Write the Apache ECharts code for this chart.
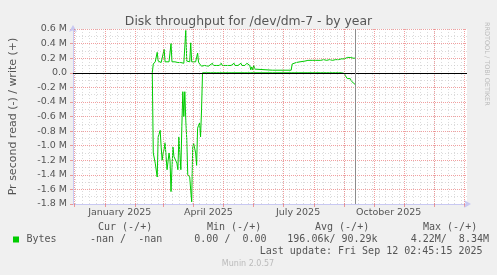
<!DOCTYPE html>
<html><head><meta charset="utf-8">
<script src="https://cdn.jsdelivr.net/npm/echarts@6/dist/echarts.min.js"></script>
<style>html,body{margin:0;padding:0;background:#F0F0F0;}#c{width:497px;height:275px;}</style>
</head><body><div id="c"></div>
<script>
// ---- data (values in M bytes per second) ----
const dates = ['2025-02-18','2025-02-19','2025-02-21','2025-02-23','2025-02-24','2025-02-26','2025-02-27','2025-02-28','2025-03-01','2025-03-02',
'2025-03-03','2025-03-04','2025-03-05','2025-03-07','2025-03-08','2025-03-09','2025-03-10','2025-03-11','2025-03-12','2025-03-13',
'2025-03-15','2025-03-16','2025-03-17','2025-03-19','2025-03-20','2025-03-21','2025-03-22','2025-03-23','2025-03-24','2025-03-25',
'2025-03-26','2025-03-28','2025-03-29','2025-03-30','2025-03-31','2025-04-01','2025-04-03','2025-04-04','2025-04-05','2025-04-06',
'2025-04-07','2025-04-08','2025-04-09','2025-04-10','2025-04-12','2025-04-14','2025-04-16','2025-04-18','2025-04-20','2025-04-21',
'2025-04-24','2025-04-27','2025-04-29','2025-04-30','2025-05-03','2025-05-05','2025-05-06','2025-05-09','2025-05-12','2025-05-13',
'2025-05-16','2025-05-19','2025-05-20','2025-05-23','2025-05-25','2025-05-26','2025-05-28','2025-05-29','2025-05-30','2025-05-31',
'2025-06-01','2025-06-02','2025-06-03','2025-06-20','2025-06-21','2025-06-22','2025-07-09','2025-07-10','2025-07-12','2025-07-14',
'2025-07-16','2025-07-18','2025-07-20','2025-07-23','2025-07-26','2025-07-28','2025-07-31','2025-08-03','2025-08-05','2025-08-08',
'2025-08-11','2025-08-14','2025-08-17','2025-08-20','2025-08-23','2025-08-26','2025-08-29','2025-08-31','2025-09-01','2025-09-02',
'2025-09-03','2025-09-04','2025-09-05','2025-09-06','2025-09-07','2025-09-08','2025-09-09','2025-09-10','2025-09-11','2025-09-12'];
const writeM = [0,0.12,0.15,0.28,0.16,0.14,0.14,0.15,0.14,0.32,
0.15,0.14,0.14,0.15,0.14,0.40,0.15,0.14,0.14,0.15,
0.14,0.14,0.13,0.14,0.13,0.14,0.13,0.15,0.58,0.16,
0.15,0.15,0.41,0.15,0.14,0.14,0.15,0.14,0.27,0.14,
0.15,0.14,0.09,0.09,0.10,0.10,0.09,0.10,0.13,0.10,
0.10,0.10,0.13,0.10,0.10,0.12,0.10,0.10,0.13,0.10,
0.10,0.13,0.10,0.10,0.13,0.11,0.10,0.04,0.08,0.04,
0.10,0.05,0.035,0.035,0.04,0.035,0.035,0.12,0.13,0.14,
0.15,0.15,0.16,0.16,0.17,0.16,0.17,0.17,0.18,0.17,
0.18,0.17,0.18,0.17,0.18,0.18,0.19,0.19,0.19,0.20,
0.20,0.21,0.20,0.22,0.21,0.20,0.21,0.20,0.21,0.20];
const readM = [0,-1.10,-1.24,-1.43,-0.88,-0.79,-1.02,-1.20,-1.10,-1.05,
-0.96,-1.15,-1.33,-1.10,-1.20,-1.63,-1.30,-1.02,-1.15,-1.13,
-1.24,-1.33,-0.88,-1.33,-0.74,-0.26,-0.60,-0.26,-0.65,-0.92,
-1.40,-1.43,-1.61,-1.77,-1.02,-0.97,-1.10,-1.27,-0.76,-0.72,
-0.69,-0.88,-0.51,0,0,0,0,0,0,0,
0,0,0,0,0,0,0,0,0,0,
0,0,0,0,0,0,0,0,0,0,
0,0,0,0,0,0,0,0,0,0,
0,0,0,0,0,0,0,0,0,0,
0,0,0,0,0,0,0,-0.02,-0.01,-0.04,
-0.03,-0.08,-0.06,-0.09,-0.08,-0.11,-0.10,-0.14,-0.13,-0.16];
const xLabelMonths = ['2025-01-01','2025-04-01','2025-07-01','2025-10-01'];
const xLabelNames = ['January 2025','April 2025','July 2025','October 2025'];
const legendHeaders = ['Cur (-/+)','Min (-/+)','Avg (-/+)','Max (-/+)'];
const legendValues = ['-nan /  -nan','0.00 /  0.00','196.06k/ 90.29k','4.22M/  8.34M'];
const seriesName = 'Bytes';
const lastUpdate = 'Last update: Fri Sep 12 02:45:15 2025';
const nowTime = '2025-09-12T02:45:15Z';

// ---- build ----
const DAY = 86400000;
const t = s => Date.parse(s.length === 10 ? s + 'T00:00:00Z' : s);
const base = t('2025-01-01');
const xMin = base - 32.5 * DAY, xMax = base + 367.5 * DAY;
const monthStarts = [];
for (let y = 2024, m = 10; ; ) { const v = Date.UTC(y, m, 1); if (v > xMax) break; if (v >= xMin) monthStarts.push(v); m++; if (m > 11) { m = 0; y++; } }
const weekLines = [];
for (let v = Date.UTC(2024, 11, 2); v <= xMax; v += 7 * DAY) weekLines.push(v);
const labelVals = xLabelMonths.map(s => t(s) + 15 * DAY);

const RED = 'rgba(232,95,95,0.6)', GREY = 'rgba(195,195,195,0.6)', AX = '#C8C8F2', TXT = '#555';
const vLines = weekLines.map(v => ({ xAxis: v, lineStyle: { color: GREY, type: [1, 2], width: 1 } }))
  .concat(monthStarts.map(v => ({ xAxis: v, lineStyle: { color: RED, type: [1, 1], width: 1 } })));

const chart = echarts.init(document.getElementById('c'), null, { renderer: 'canvas' });
const gtext = (x, y, text, opts) => Object.assign({ type: 'text', x, y, silent: true,
  style: Object.assign({ text, fill: TXT, font: '10px "DejaVu Sans Mono"', textVerticalAlign: 'middle' }, opts || {}) });
const graphics = [
  { type: 'rect', shape: { x: 13, y: 236.5, width: 6, height: 6 }, style: { fill: '#00CC00' }, silent: true },
  gtext(26.5, 239.5, seriesName),
];
const hdrX = [98, 207, 315, 423], valX = [90, 194.3, 287.3, 410.7];
legendHeaders.forEach((h, i) => graphics.push(gtext(hdrX[i], 227.8, h)));
legendValues.forEach((h, i) => graphics.push(gtext(valX[i], 239.5, h)));
graphics.push(gtext(482.5, 251.8, lastUpdate, { textAlign: 'right' }));
graphics.push(gtext(248, 264, 'Munin 2.0.57', { textAlign: 'center', fill: '#BBBBBB', font: '8px "DejaVu Sans"' }));
graphics.push({ type: 'text', x: 487, y: 22, rotation: -Math.PI / 2, silent: true,
  style: { text: 'RRDTOOL / TOBI OETIKER', fill: '#BBBBBB', font: '6.5px "DejaVu Sans"', textAlign: 'left', textVerticalAlign: 'middle' } });

chart.setOption({
  animation: false,
  backgroundColor: '#F0F0F0',
  title: { text: 'Disk throughput for /dev/dm-7 - by year', left: 'center', top: 11,
    textStyle: { color: TXT, fontFamily: 'DejaVu Sans', fontSize: 12.4, fontWeight: 'normal' } },
  grid: { left: 67, right: 30, top: 29, bottom: 71, show: true, backgroundColor: '#FFFFFF', borderWidth: 0 },
  xAxis: {
    type: 'value', min: xMin, max: xMax,
    axisLine: { show: true, onZero: false, lineStyle: { color: AX, width: 1 }, symbol: ['none', 'arrow'], symbolSize: [6, 7], symbolOffset: [0, 4] },
    axisTick: { show: true, length: 3, customValues: monthStarts, lineStyle: { color: RED } },
    axisLabel: { customValues: labelVals, color: TXT, fontFamily: 'DejaVu Sans', fontSize: 9.5, margin: 4,
      formatter: v => { const i = labelVals.indexOf(v); return i >= 0 ? xLabelNames[i] : ''; } },
    splitLine: { show: false }
  },
  yAxis: {
    type: 'value', min: -1.8, max: 0.6, interval: 0.2,
    name: 'Pr second read (-) / write (+)', nameLocation: 'middle', nameGap: 54,
    nameTextStyle: { color: TXT, fontFamily: 'DejaVu Sans', fontSize: 11 },
    axisLine: { show: true, lineStyle: { color: AX, width: 1 }, symbol: ['none', 'arrow'], symbolSize: [6, 7], symbolOffset: [0, 4] },
    axisTick: { show: true, length: 3, lineStyle: { color: RED } },
    axisLabel: { color: TXT, fontFamily: 'DejaVu Sans', fontSize: 9.5, margin: 6,
      formatter: v => Math.abs(v) < 1e-9 ? '0.0' : v.toFixed(1) + ' M' },
    splitLine: { show: true, lineStyle: { color: RED, type: [1, 1] } },
    minorTick: { show: false, splitNumber: 2 },
    minorSplitLine: { show: true, lineStyle: { color: GREY, type: [1, 2] } }
  },
  series: [
    { type: 'line', name: 'vgrid', data: [], z: 1, silent: true,
      markLine: { silent: true, symbol: 'none', label: { show: false }, animation: false, data: vLines } },
    { type: 'line', name: seriesName, z: 3, showSymbol: false, symbol: 'none', color: '#00CC00',
      lineStyle: { color: '#00CC00', width: 1 }, data: dates.map((d, i) => [t(d), writeM[i]]) },
    { type: 'line', name: seriesName, z: 3, showSymbol: false, symbol: 'none', color: '#00CC00',
      lineStyle: { color: '#00CC00', width: 1 }, data: dates.map((d, i) => [t(d), readM[i]]) },
    { type: 'line', name: 'rules', data: [], z: 5, silent: true,
      markLine: { silent: true, symbol: 'none', label: { show: false }, animation: false,
        data: [ { yAxis: 0, lineStyle: { color: '#000000', type: 'solid', width: 1 } },
                { xAxis: t(nowTime), lineStyle: { color: '#8C8C8C', type: 'solid', width: 1 } } ] } }
  ],
  graphic: graphics
});
</script></body></html>
